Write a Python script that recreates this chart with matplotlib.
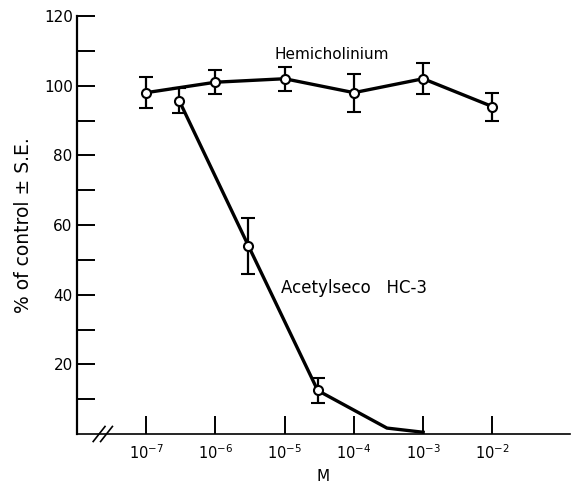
import numpy as np
import matplotlib.pyplot as plt

# Hemicholinium vs acetylseco HC-3, % of control +/- S.E. against molar conc.
hemi_conc = [1e-7, 1e-6, 1e-5, 1e-4, 1e-3, 1e-2]
hemi_pct = [98, 101, 102, 98, 102, 94]
hemi_se = [4.5, 3.5, 3.5, 5.5, 4.5, 4.0]

acet_conc = [3e-7, 3e-6, 3e-5]
acet_pct = [95.7, 54, 12.5]
acet_se = [3.6, 8, 3.7]
# tail of the curve, drawn without markers
acet_tail_conc = [3e-5, 3e-4, 1e-3]
acet_tail_pct = [12.5, 1.7, 0.5]

xtick_vals = [1e-7, 1e-6, 1e-5, 1e-4, 1e-3, 1e-2]
xtick_labels = ['$10^{-7}$', '$10^{-6}$', '$10^{-5}$', '$10^{-4}$', '$10^{-3}$', '$10^{-2}$']
ytick_major = [20, 40, 60, 80, 100, 120]
ytick_minor = [10, 30, 50, 70, 90, 110]

plt.rcParams['font.family'] = ['DejaVu Sans']
fig = plt.figure(figsize=(5.74, 4.86), dpi=100)
ax = fig.add_axes([0.134, 0.107, 0.859, 0.860])

lw = 2.4
ax.plot(acet_tail_conc, acet_tail_pct, 'k-', lw=lw, zorder=2)
ax.errorbar(acet_conc, acet_pct, yerr=acet_se, fmt='-o', color='k', lw=lw,
            mfc='white', mec='k', ms=6.5, mew=1.5, capsize=5, elinewidth=1.6,
            capthick=1.6, zorder=3)
ax.errorbar(hemi_conc, hemi_pct, yerr=hemi_se, fmt='-o', color='k', lw=lw,
            mfc='white', mec='k', ms=6.5, mew=1.5, capsize=5, elinewidth=1.6,
            capthick=1.6, zorder=3)

ax.set_xscale('log')
ax.set_xlim(1e-8, 10**-0.88)
ax.set_ylim(0, 120)

for s in ['top', 'right']:
    ax.spines[s].set_visible(False)
ax.spines['left'].set_linewidth(1.6)
ax.spines['bottom'].set_linewidth(1.2)

ax.set_xticks(xtick_vals)
ax.set_xticklabels(xtick_labels, fontsize=10.5)
ax.xaxis.set_minor_locator(plt.NullLocator())
ax.tick_params(axis='x', direction='in', length=13, width=1.4, pad=7)

ax.set_yticks(ytick_major)
ax.set_yticklabels([str(v) for v in ytick_major], fontsize=11)
ax.set_yticks(ytick_minor, minor=True)
ax.tick_params(axis='y', which='both', direction='in', length=13, width=1.4, pad=3)

# axis break marks
kw = dict(transform=ax.transAxes, color='k', lw=1.2, clip_on=False)
for dx in [0.045, 0.060]:
    ax.plot([dx - 0.012, dx + 0.012], [-0.018, 0.018], **kw)

ax.text(4.8e-5, 109, 'Hemicholinium', ha='center', va='center', fontsize=11)
ax.text(1e-4, 42, 'Acetylseco   HC-3', ha='center', va='center', fontsize=12)

ax.set_ylabel('% of control \u00b1 S.E.', fontsize=13.5, labelpad=8)
ax.set_xlabel('M', fontsize=11, labelpad=5)

fig.savefig('out.png', dpi=100)
